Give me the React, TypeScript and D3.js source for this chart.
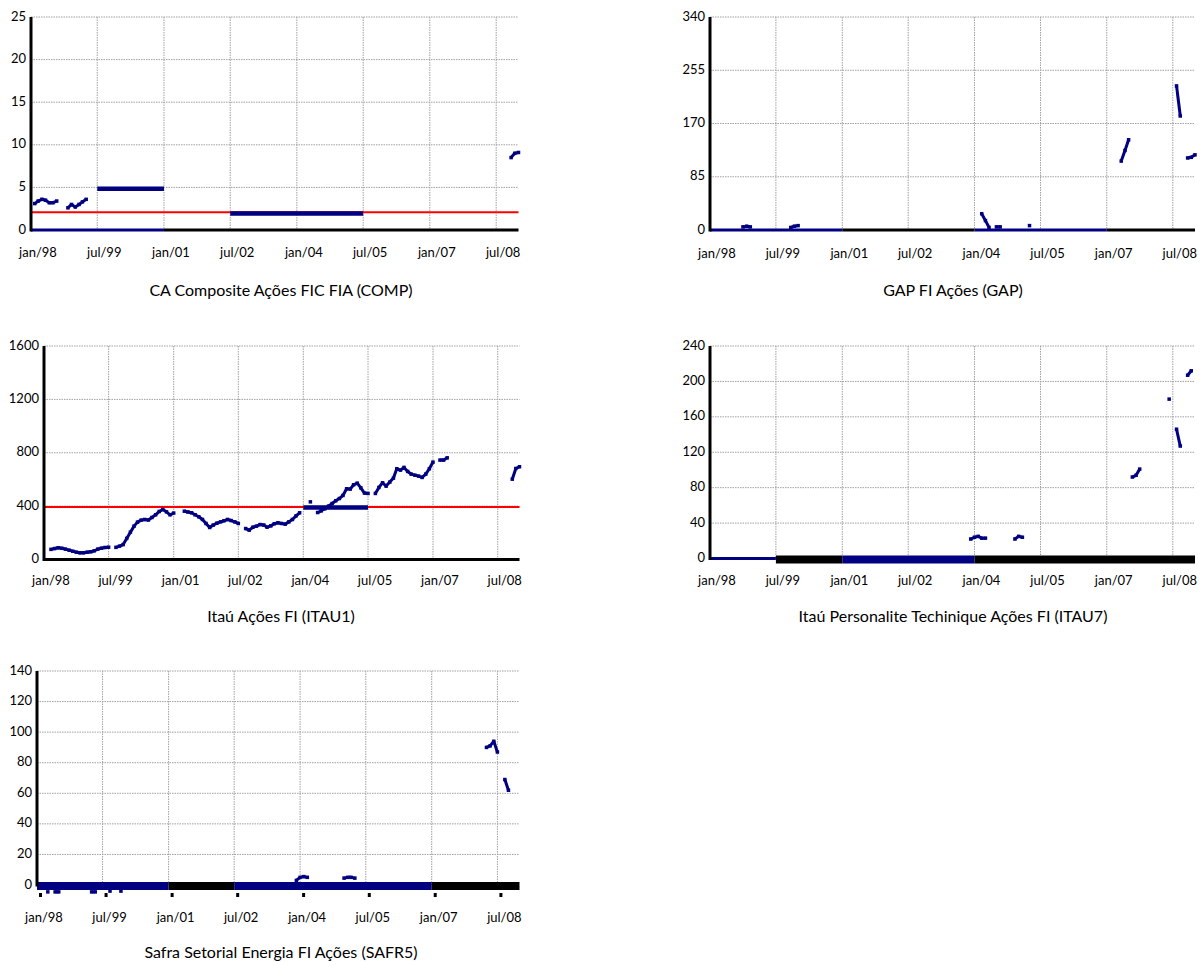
import React, { useEffect, useRef } from "react";
import * as d3 from "d3";

// shared x axis
const domainStart = "1998-01";
const domainEnd = "2009-01";
const tickLabels = ["jan/98", "jul/99", "jan/01", "jul/02", "jan/04", "jul/05", "jan/07", "jul/08"];

// CA Composite
const compTitle = "CA Composite Ações FIC FIA (COMP)";
const compTicks = [0, 5, 10, 15, 20, 25];
const compSeries = [
  { start: "1998-02", values: [3.1, 3.4, 3.6, 3.5, 3.2, 3.2, 3.4] },
  { start: "1998-11", values: [2.6, 3.0, 2.7, 3.0, 3.3, 3.6] },
  { start: "2008-11", values: [8.5, 9.0, 9.1] },
];
const compAverages = [
  { from: "1999-07", to: "2001-01", value: 4.85 },
  { from: "2002-07", to: "2005-07", value: 1.95 },
];
const compReference = 2.07;
const compBase = [
  { from: "1998-01", to: "2001-01", kind: "fund", band: false },
  { from: "2001-01", to: "2009-01", kind: "axis", band: false },
];

// GAP
const gapTitle = "GAP FI Ações (GAP)";
const gapTicks = [0, 85, 170, 255, 340];
const gapSeries = [
  { start: "1998-10", values: [5, 6, 5] },
  { start: "1999-11", values: [4, 6, 7] },
  { start: "2004-03", values: [26, 15, 4] },
  { start: "2004-07", values: [5, 5] },
  { start: "2005-04", values: [7] },
  { start: "2007-05", values: [110, 127, 144] },
  { start: "2008-08", values: [230, 182] },
  { start: "2008-11", values: [115, 116, 120] },
];
const gapBase = [
  { from: "1998-01", to: "2001-01", kind: "fund", band: false },
  { from: "2001-01", to: "2004-01", kind: "axis", band: false },
  { from: "2004-01", to: "2007-01", kind: "fund", band: false },
  { from: "2007-01", to: "2009-01", kind: "axis", band: false },
];

// Itaú Ações
const itau1Title = "Itaú Ações FI (ITAU1)";
const itau1Ticks = [0, 400, 800, 1200, 1600];
const itau1Series = [
  { start: "1998-03", values: [76, 82, 88, 84, 78, 70, 62, 55, 50, 50, 55, 58, 65, 78, 85, 90, 92] },
  { start: "1999-09", values: [91, 100, 112, 158, 205, 250, 280, 295, 300, 296, 315, 335, 360, 375, 357, 335, 348] },
  { start: "2001-04", values: [362, 356, 350, 335, 320, 300, 270, 240, 258, 272, 282, 290, 300, 292, 282, 270] },
  { start: "2002-09", values: [232, 220, 242, 250, 262, 258, 242, 252, 268, 275, 270, 265, 282, 300, 327, 350] },
  { start: "2004-03", values: [432] },
  { start: "2004-05", values: [352, 365, 380, 400, 420, 440, 457, 480, 530, 528, 560, 572, 537, 498, 495] },
  { start: "2005-09", values: [495, 540, 575, 550, 580, 610, 680, 670, 690, 660, 640, 632, 625, 615, 640, 680, 730] },
  { start: "2007-03", values: [745, 745, 762] },
  { start: "2008-11", values: [602, 682, 695] },
];
const itau1Averages = [{ from: "2004-01", to: "2005-07", value: 389 }];
const itau1Reference = 393;
const itau1Base = [{ from: "1998-01", to: "2009-01", kind: "axis", band: false }];

// Itaú Personalite
const itau7Title = "Itaú Personalite Techinique Ações FI (ITAU7)";
const itau7Ticks = [0, 40, 80, 120, 160, 200, 240];
const itau7Series = [
  { start: "2003-12", values: [22, 24, 25, 23, 23] },
  { start: "2004-12", values: [22, 25, 24] },
  { start: "2007-08", values: [92, 94, 101] },
  { start: "2008-06", values: [180] },
  { start: "2008-08", values: [146, 127] },
  { start: "2008-11", values: [207, 212] },
];
const itau7Base = [
  { from: "1998-01", to: "1999-07", kind: "fund", band: false },
  { from: "1999-07", to: "2001-01", kind: "axis", band: true },
  { from: "2001-01", to: "2004-01", kind: "fund", band: true },
  { from: "2004-01", to: "2009-01", kind: "axis", band: true },
];

// Safra Setorial Energia
const safr5Title = "Safra Setorial Energia FI Ações (SAFR5)";
const safr5Ticks = [0, 20, 40, 60, 80, 100, 120, 140];
const safr5Series = [
  { start: "1998-04", values: [-4.5] },
  { start: "1998-06", values: [-4.5, -4.5] },
  { start: "1999-04", values: [-4.5, -4.5] },
  { start: "1999-09", values: [-4] },
  { start: "1999-12", values: [-4] },
  { start: "2003-12", values: [3, 5, 5.5, 5] },
  { start: "2005-01", values: [4.5, 5, 5, 4.5] },
  { start: "2008-04", values: [90, 91, 94, 87] },
  { start: "2008-09", values: [69, 62] },
];
const safr5Base = [
  { from: "1998-01", to: "2001-01", kind: "fund", band: true },
  { from: "2001-01", to: "2002-07", kind: "axis", band: true },
  { from: "2002-07", to: "2007-01", kind: "fund", band: true },
  { from: "2007-01", to: "2009-01", kind: "axis", band: true },
];

const panels = [
  { title: compTitle, ticks: compTicks, series: compSeries, averages: compAverages, reference: compReference, base: compBase, tickMarks: false },
  { title: gapTitle, ticks: gapTicks, series: gapSeries, averages: [], reference: null, base: gapBase, tickMarks: false },
  { title: itau1Title, ticks: itau1Ticks, series: itau1Series, averages: itau1Averages, reference: itau1Reference, base: itau1Base, tickMarks: false },
  { title: itau7Title, ticks: itau7Ticks, series: itau7Series, averages: [], reference: null, base: itau7Base, tickMarks: false },
  { title: safr5Title, ticks: safr5Ticks, series: safr5Series, averages: [], reference: null, base: safr5Base, tickMarks: true },
];

const layouts = [
  { left: 31, right: 518.5, top: 17, bottom: 230, titleX: 281, titleY: 290, labelGap: 22 },
  { left: 710, right: 1195, top: 17, bottom: 230, titleX: 953, titleY: 290, labelGap: 23 },
  { left: 44, right: 519.5, top: 346, bottom: 559.5, titleX: 281, titleY: 616, labelGap: 21 },
  { left: 710, right: 1195, top: 346, bottom: 558.5, titleX: 953, titleY: 616, labelGap: 21.5 },
  { left: 37, right: 519.5, top: 671, bottom: 885, titleX: 281, titleY: 952, labelGap: 32 },
];

const NAVY = "#000080";
const FONT = "Lato, 'Open Sans', sans-serif";

export default function App() {
  const ref = useRef<SVGSVGElement>(null);

  useEffect(() => {
    if (!ref.current) return;
    const svg = d3.select(ref.current);
    svg.selectAll("*").remove();

    const parseMonth = d3.timeParse("%Y-%m");
    const parseTick = d3.timeParse("%b/%y");

    panels.forEach((p, idx) => {
      const box = layouts[idx];
      const g = svg.append("g");

      const x = d3
        .scaleTime()
        .domain([parseMonth(domainStart) as Date, parseMonth(domainEnd) as Date])
        .range([box.left, box.right]);
      const y = d3
        .scaleLinear()
        .domain([0, d3.max(p.ticks) as number])
        .range([box.bottom, box.top]);
      const tickDates = tickLabels.map((t) => parseTick(t) as Date);

      // gridlines
      g.selectAll(".hgrid")
        .data(p.ticks.filter((v) => v > 0))
        .enter()
        .append("line")
        .attr("x1", box.left)
        .attr("x2", box.right)
        .attr("y1", (d) => y(d))
        .attr("y2", (d) => y(d))
        .attr("stroke", "#a0a0a0")
        .attr("stroke-dasharray", "1.5 1")
        .attr("stroke-width", 1);

      g.selectAll(".vgrid")
        .data(tickDates.slice(1))
        .enter()
        .append("line")
        .attr("x1", (d) => x(d))
        .attr("x2", (d) => x(d))
        .attr("y1", box.top)
        .attr("y2", box.bottom)
        .attr("stroke", "#a0a0a0")
        .attr("stroke-dasharray", "1.5 1")
        .attr("stroke-width", 1);

      // y labels
      g.selectAll(".ylab")
        .data(p.ticks)
        .enter()
        .append("text")
        .attr("x", box.left - 5)
        .attr("y", (d) => y(d) - 1)
        .attr("dy", "0.35em")
        .attr("text-anchor", "end")
        .style("font-family", FONT)
        .style("font-size", "13px")
        .style("fill", "#000")
        .text((d) => String(d));

      // x labels
      g.selectAll(".xlab")
        .data(tickLabels)
        .enter()
        .append("text")
        .attr("x", (d) => x(parseTick(d) as Date) + 7)
        .attr("y", box.bottom + box.labelGap)
        .attr("dy", "0.35em")
        .attr("text-anchor", "middle")
        .style("font-family", FONT)
        .style("font-size", "13px")
        .style("fill", "#000")
        .text((d) => d);

      // title
      g.append("text")
        .attr("x", box.titleX)
        .attr("y", box.titleY)
        .attr("dy", "0.35em")
        .attr("text-anchor", "middle")
        .style("font-family", FONT)
        .style("font-size", "16px")
        .style("fill", "#000")
        .text(p.title);

      // reference line
      if (p.reference !== null) {
        g.append("line")
          .attr("x1", box.left)
          .attr("x2", box.right)
          .attr("y1", y(p.reference))
          .attr("y2", y(p.reference))
          .attr("stroke", "#ff0000")
          .attr("stroke-width", 2);
      }

      // fund series
      const line = d3
        .line<[Date, number]>()
        .x((d) => x(d[0]))
        .y((d) => y(d[1]));

      p.series.forEach((s) => {
        const start = parseMonth(s.start) as Date;
        const pts: [Date, number][] = s.values.map((v, i) => [d3.timeMonth.offset(start, i), v]);
        g.append("path")
          .datum(pts)
          .attr("fill", "none")
          .attr("stroke", NAVY)
          .attr("stroke-width", 3)
          .attr("stroke-linejoin", "round")
          .attr("d", line);
        g.selectAll(null)
          .data(pts)
          .enter()
          .append("rect")
          .attr("x", (d) => x(d[0]) - 1.75)
          .attr("y", (d) => y(d[1]) - 1.75)
          .attr("width", 3.5)
          .attr("height", 3.5)
          .attr("fill", NAVY);
      });

      // period averages
      g.selectAll(".avg")
        .data(p.averages)
        .enter()
        .append("line")
        .attr("x1", (d) => x(parseMonth(d.from) as Date))
        .attr("x2", (d) => x(parseMonth(d.to) as Date))
        .attr("y1", (d) => y(d.value))
        .attr("y2", (d) => y(d.value))
        .attr("stroke", NAVY)
        .attr("stroke-width", 4.5);

      // baseline segments
      p.base.forEach((b) => {
        const x1 = x(parseMonth(b.from) as Date);
        const x2 = x(parseMonth(b.to) as Date);
        const color = b.kind === "fund" ? NAVY : "#000";
        if (b.band) {
          g.append("rect")
            .attr("x", x1)
            .attr("y", y(0) - 3)
            .attr("width", x2 - x1)
            .attr("height", 8)
            .attr("fill", color);
        } else {
          g.append("line")
            .attr("x1", x1)
            .attr("x2", x2)
            .attr("y1", y(0))
            .attr("y2", y(0))
            .attr("stroke", color)
            .attr("stroke-width", 3);
        }
      });

      if (p.tickMarks) {
        g.selectAll(".tm")
          .data(tickDates)
          .enter()
          .append("rect")
          .attr("x", (d) => x(d) + 2)
          .attr("y", y(0) + 8)
          .attr("width", 3)
          .attr("height", 4)
          .attr("fill", "#000");
      }

      // y axis
      g.append("line")
        .attr("x1", box.left)
        .attr("x2", box.left)
        .attr("y1", box.top)
        .attr("y2", box.bottom + 1.5)
        .attr("stroke", "#000")
        .attr("stroke-width", 3);
    });
  }, []);

  return (
    <div style={{ position: "absolute", left: 0, top: 0 }}>
      <svg ref={ref} width={1204} height={962} style={{ display: "block", background: "#fff" }} />
    </div>
  );
}
